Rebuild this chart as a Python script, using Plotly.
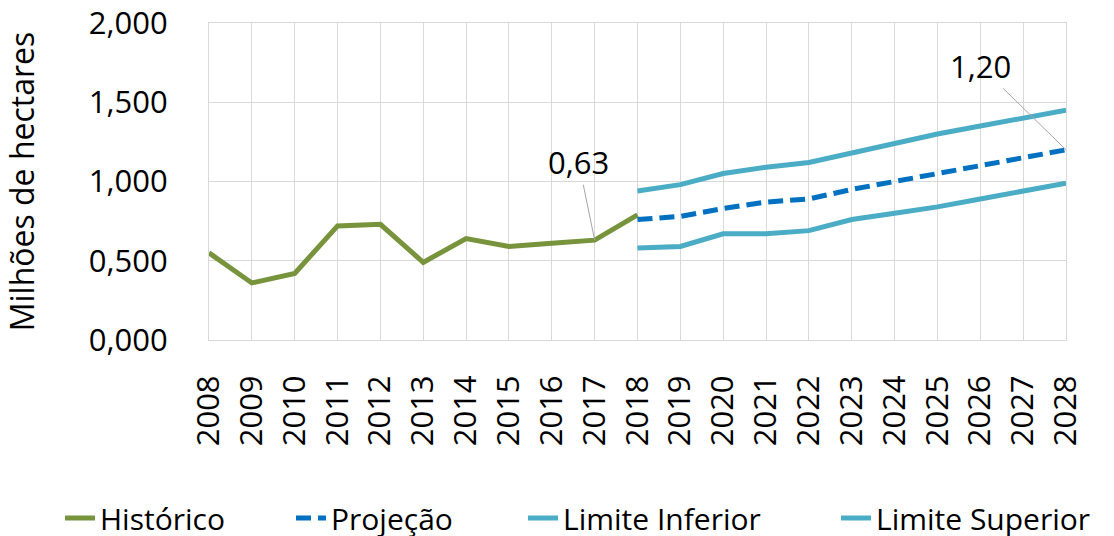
import plotly.graph_objects as go

# historical and projected area (millions of hectares)
hist_years = list(range(2008, 2019))
historico = [0.55, 0.36, 0.42, 0.72, 0.73, 0.49, 0.64, 0.59, 0.61, 0.63, 0.79]

proj_years = list(range(2018, 2029))
projecao = [0.76, 0.78, 0.83, 0.87, 0.89, 0.95, 1.00, 1.05, 1.10, 1.15, 1.20]
limite_inferior = [0.58, 0.59, 0.67, 0.67, 0.69, 0.76, 0.80, 0.84, 0.89, 0.94, 0.99]
limite_superior = [0.94, 0.98, 1.05, 1.09, 1.12, 1.18, 1.24, 1.30, 1.35, 1.40, 1.45]

all_years = list(range(2008, 2029))
y_ticks = [0, 0.5, 1.0, 1.5, 2.0]

FONT = "Open Sans"
GREEN = "#77933C"
BLUE = "#0070C0"
LIGHT = "#4BACC6"
GRID = "#D9D9D9"
W, H = 1114, 536


def fmt(v):
    return f"{v:.2f}".replace(".", ",")


fig = go.Figure()

fig.add_trace(go.Scatter(
    x=hist_years, y=historico, mode="lines", name="Histórico",
    line=dict(color=GREEN, width=5), legend="legend"
))
fig.add_trace(go.Scatter(
    x=proj_years, y=projecao, mode="lines", name="Projeção",
    line=dict(color=BLUE, width=5, dash="15px,7px"), legend="legend2"
))
fig.add_trace(go.Scatter(
    x=proj_years, y=limite_inferior, mode="lines", name="Limite Inferior",
    line=dict(color=LIGHT, width=5), legend="legend3"
))
fig.add_trace(go.Scatter(
    x=proj_years, y=limite_superior, mode="lines", name="Limite Superior",
    line=dict(color=LIGHT, width=5), legend="legend4"
))

# data labels with leader lines
fig.add_annotation(
    x=hist_years[9], y=historico[9], text=fmt(historico[9]),
    showarrow=True, arrowhead=0, arrowwidth=1, arrowcolor="#A6A6A6",
    ax=-16, ay=-78, font=dict(family=FONT, size=31, color="black")
)
fig.add_annotation(
    x=proj_years[-1], y=projecao[-1], text=fmt(projecao[-1]),
    showarrow=True, arrowhead=0, arrowwidth=1, arrowcolor="#A6A6A6",
    ax=-86, ay=-84, font=dict(family=FONT, size=31, color="black")
)


# one legend per entry so the row can be spread like the original
def legend_at(px):
    return dict(
        orientation="h", xref="container", yref="container",
        x=px / W, y=(H - 518) / H, xanchor="left", yanchor="middle",
        font=dict(family=FONT, size=30, color="black"),
        itemwidth=30, bgcolor="rgba(0,0,0,0)",
    )


fig.update_layout(
    width=W, height=H,
    margin=dict(l=209, r=48, t=23, b=196, autoexpand=False),
    plot_bgcolor="white", paper_bgcolor="white",
    separators=",.",
    font=dict(family=FONT, size=30, color="black"),
    showlegend=True,
    legend=legend_at(60),
    legend2=legend_at(291),
    legend3=legend_at(523),
    legend4=legend_at(836),
    xaxis=dict(
        range=[2008, 2028], tickvals=all_years, tickangle=-90,
        showgrid=True, gridcolor=GRID, gridwidth=1,
        showline=True, linecolor=GRID, mirror=True,
        zeroline=False, ticks="", ticklabelstandoff=22,
        tickfont=dict(family=FONT, size=31), automargin=False,
    ),
    yaxis=dict(
        range=[0, 2], tickvals=y_ticks, tickformat=".3f",
        showgrid=True, gridcolor=GRID, gridwidth=1,
        showline=True, linecolor=GRID, mirror=True,
        zeroline=False, ticks="", ticklabelstandoff=34,
        tickfont=dict(family=FONT, size=31), automargin=False,
        title=dict(text="Milhões de hectares", standoff=52,
                   font=dict(family=FONT, size=32)),
    ),
)

# the page body has a default margin; drop it so the figure sits at 0,0
fig.write_html("out.html", config={"displayModeBar": False},
               post_script="document.body.style.margin='0';")
